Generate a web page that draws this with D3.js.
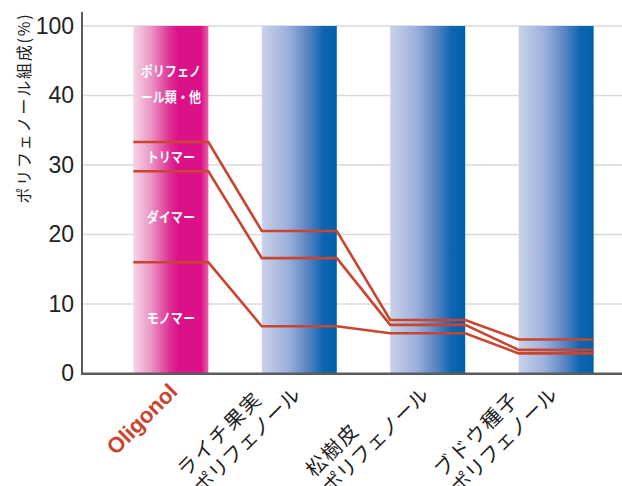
<!DOCTYPE html>
<html><head><meta charset="utf-8">
<script src="https://cdn.jsdelivr.net/npm/d3@7/dist/d3.min.js"></script>
<style>html,body{margin:0;padding:0;background:#fff;} svg{display:block;}</style>
</head><body><svg id="c" width="622" height="486"></svg>
<script>
// ---- data ----
const categories = ["Oligonol", "ライチ果実", "松樹皮", "ブドウ種子"];
const labelLine2 = ["", "ポリフェノール", "ポリフェノール", "ポリフェノール"];
const monomerTop = [16.0, 6.8, 5.8, 2.9];   // upper edge of monomer share
const dimerTop   = [29.1, 16.6, 7.0, 3.4];  // upper edge of dimer share
const trimerTop  = [33.3, 20.5, 7.7, 4.9];  // upper edge of trimer share
const barTotal   = [100, 100, 100, 100];
const yTicks = [0, 10, 20, 30, 40, 100];
const yBreaks = [0, 40, 100];
const segmentLabels = [["モノマー"], ["ダイマー"], ["トリマー"], ["ポリフェノ", "ール類・他"]];
const yTitle = "ポリフェノール組成(%)";

// ---- layout ----
const W = 622, H = 486;
const svg = d3.select("#c");
const x = d3.scaleBand().domain(categories).range([82, 645]).paddingInner(0.416).paddingOuter(0.4);
const y = d3.scaleLinear().domain(yBreaks).range([373.5, 95.5, 26]);
const bw = x.bandwidth();
const lineColor = "#c9452f";
const jp = "'Noto Sans CJK JP', 'Noto Sans', sans-serif";

const defs = svg.append("defs");
const pink = defs.append("linearGradient").attr("id", "gPink");
[[0, "#f6d3e5"], [0.22, "#eb9bc7"], [0.5, "#de2a92"], [0.6, "#dc1087"], [0.9, "#dc1087"], [1, "#e761a8"]]
  .forEach(([o, c]) => pink.append("stop").attr("offset", o).attr("stop-color", c));
const blue = defs.append("linearGradient").attr("id", "gBlue");
[[0, "#c9d2eb"], [0.35, "#9bb0db"], [0.6, "#5c86c4"], [0.82, "#0c65b2"], [1, "#0060ad"]]
  .forEach(([o, c]) => blue.append("stop").attr("offset", o).attr("stop-color", c));

// gridlines
svg.append("g").selectAll("line").data(yTicks.filter(t => t > 0)).join("line")
  .attr("x1", 82).attr("x2", W).attr("y1", d => y(d)).attr("y2", d => y(d))
  .attr("stroke", "#d9d9d9").attr("stroke-width", 1.5);

// bars
svg.append("g").selectAll("rect").data(categories).join("rect")
  .attr("x", d => x(d)).attr("width", bw)
  .attr("y", (d, i) => y(barTotal[i])).attr("height", (d, i) => y(0) - y(barTotal[i]))
  .attr("fill", (d, i) => i === 0 ? "url(#gPink)" : "url(#gBlue)");

// boundary lines
const line = d3.line();
[monomerTop, dimerTop, trimerTop].forEach(s => {
  const pts = categories.flatMap((c, i) => [[x(c), y(s[i])], [x(c) + bw, y(s[i])]]);
  svg.append("path").attr("d", line(pts)).attr("fill", "none")
    .attr("stroke", lineColor).attr("stroke-width", 2.6);
});

// segment labels in first bar
const bounds = [0, monomerTop[0], dimerTop[0], trimerTop[0], barTotal[0]];
const cx0 = x(categories[0]) + bw / 2;
segmentLabels.forEach((lines, k) => {
  const cy = (y(bounds[k]) + y(bounds[k + 1])) / 2;
  const n = lines.length;
  const g = svg.append("g").attr("transform", `translate(${cx0},${cy}) scale(0.86,1)`);
  lines.forEach((t, j) => {
    g.append("text").attr("x", 0).attr("y", (j - (n - 1) / 2) * 26)
      .attr("dy", "0.36em").attr("text-anchor", "middle")
      .attr("fill", "#fff").attr("font-weight", "bold").attr("font-size", 14)
      .attr("font-family", jp).text(t);
  });
});

// y axis
const ya = svg.append("g").attr("transform", "translate(82,0)")
  .call(d3.axisLeft(y).tickValues(yTicks).tickSize(0).tickPadding(8));
ya.select(".domain").remove();
ya.selectAll("text").attr("font-size", 23).attr("fill", "#222")
  .attr("font-family", "'Liberation Sans Narrow', 'Arial Narrow', 'Liberation Sans', sans-serif");

// axis lines
svg.append("line").attr("x1", 82).attr("x2", 82).attr("y1", 12).attr("y2", 374.5)
  .attr("stroke", "#5c5c5c").attr("stroke-width", 2);
svg.append("line").attr("x1", 81).attr("x2", W).attr("y1", 373.8).attr("y2", 373.8)
  .attr("stroke", "#5c5c5c").attr("stroke-width", 2.4);

// y title
svg.append("text").attr("transform", "translate(24,108) rotate(-90)")
  .attr("text-anchor", "middle").attr("dy", "0.35em")
  .attr("font-size", 16).attr("letter-spacing", 1.8).attr("fill", "#222")
  .attr("font-family", jp).text(yTitle);

// x labels
categories.forEach((c, i) => {
  const cx = x(c) + bw / 2;
  if (!labelLine2[i]) {
    svg.append("text").attr("transform", `translate(${cx + 8},393) rotate(-45)`)
      .attr("text-anchor", "end").attr("font-size", 22).attr("font-weight", "bold")
      .attr("fill", lineColor).attr("font-family", "'Liberation Sans', Arial, sans-serif").text(c);
  } else {
    const g = svg.append("g").attr("transform", `translate(${cx + 2.5},396) rotate(-45)`);
    const t2 = g.append("text").attr("text-anchor", "end").attr("font-size", 20)
      .attr("fill", "#222").attr("font-family", jp).text(labelLine2[i]);
    const len = t2.node().getComputedTextLength();
    g.append("text").attr("x", -len).attr("y", -24).attr("text-anchor", "start")
      .attr("font-size", 20).attr("letter-spacing", 2).attr("fill", "#222")
      .attr("font-family", jp).text(c);
  }
});
</script></body></html>
